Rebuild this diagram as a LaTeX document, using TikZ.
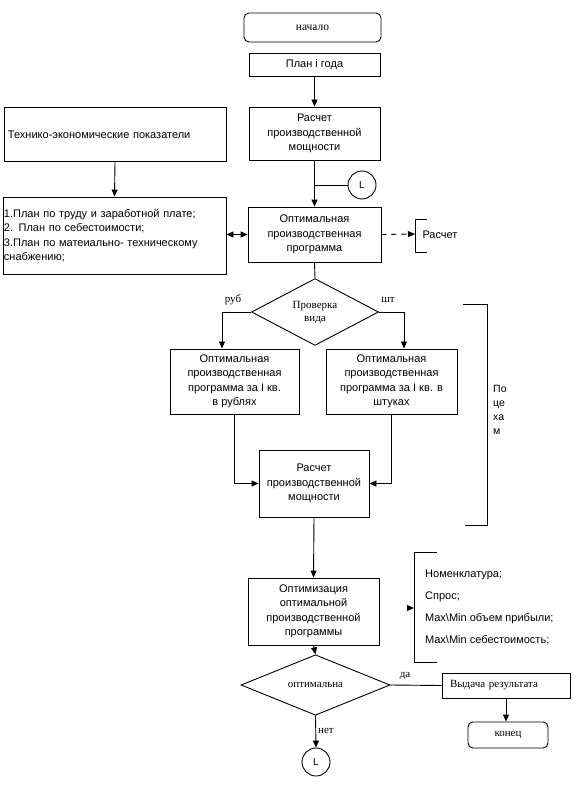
\documentclass[tikz,border=0pt]{standalone}
\usepackage{fontspec}
\setmainfont{Liberation Sans}
\newfontfamily\seriffont{Liberation Serif}
\usetikzlibrary{arrows.meta,shapes.geometric,calc}
\begin{document}
\begin{tikzpicture}[x=1pt,y=-1pt,
  lw/.style={line width=0.9pt},
  box/.style={draw,lw,inner sep=0pt,align=center,font=\fontsize{11}{14.5}\selectfont},
  rbox/.style={box,rounded corners=5pt},
  sbox/.style={box,font=\seriffont\fontsize{11}{13}\selectfont},
  dia/.style={draw,lw,diamond,inner sep=0pt,align=center,font=\seriffont\fontsize{11}{13}\selectfont},
  conn/.style={draw,lw,circle,minimum size=28pt,inner sep=0pt,font=\fontsize{10}{12}\selectfont},
  arr/.style={lw,-{Triangle[width=6pt,length=7pt]}},
  darr/.style={lw,{Triangle[width=6pt,length=7pt]}-{Triangle[width=6pt,length=7pt]}},
  ln/.style={lw},
  lab/.style={font=\seriffont\fontsize{11}{13}\selectfont,inner sep=0pt},
  txt/.style={font=\fontsize{11}{14.5}\selectfont,inner sep=0pt,align=left}
]
\useasboundingbox (0,0) rectangle (588,786);

% top column
\node[rbox,minimum width=137pt,minimum height=29pt,font=\seriffont\fontsize{11.5}{13}\selectfont] (nach) at (312.5,27.5) {начало};
\node[box,minimum width=131pt,minimum height=23pt] (plan) at (314.5,64.5) {План і года};
\node[box,minimum width=131pt,minimum height=53pt] (r1) at (314.5,133.5) {Расчет\\производственной\\мощности};
\node[conn] (L1) at (362,185) {L};
\node[box,minimum width=133pt,minimum height=55pt] (opt) at (314.5,234.5) {Оптимальная\\производственная\\программа};

% left column
\node[box,minimum width=222pt,minimum height=54pt,text width=214pt,align=left] (tech) at (115,134.5) {Технико-экономические показатели};
\node[box,minimum width=223pt,minimum height=77pt,text width=221pt,align=left] (plans) at (114.5,235.5) {1.План по труду и заработной плате;\\2. План по себестоимости;\\3.План по матеиально- техническому\\снабжению;};

% Расчет bracket
\coordinate (rb) at (415,234);
\draw[ln] (427,219) -- (415,219) -- (415,252) -- (427,252);
\node[txt] (rtxt) at (440,235) {Расчет};

% check diamond
\node[dia,minimum width=127pt,minimum height=62pt] (prov) at (315,312) {Проверка\\вида};
\node[box,minimum width=129pt,minimum height=65pt] (lb) at (234.5,381.5) {Оптимальная\\производственная\\программа за I кв.\\в рублях};
\node[box,minimum width=131pt,minimum height=65pt] (rbx) at (391.5,381.5) {Оптимальная\\производственная\\программа за I кв. в\\штуках};
\coordinate (lbin) at (222,348.5);
\coordinate (rbin) at (404,348.5);
\node[lab] (rub) at (233,300) {руб};
\node[lab] (sht) at (388,300) {шт};

\node[box,minimum width=110pt,minimum height=67pt] (r2) at (314,483.5) {Расчет\\производственной\\мощности};

% По цехам bracket
\draw[ln] (463,304) -- (487,304) -- (487,525) -- (465,525);
\node[txt,anchor=north west,font=\fontsize{10.5}{14}\selectfont] (pc) at (493,385) {По\\це\\ха\\м};

\node[box,minimum width=131pt,minimum height=67pt] (optz) at (313.5,611.5) {Оптимизация\\оптимальной\\производственной\\программы};

% Номенклатура bracket
\draw[ln] (437,552) -- (414,552) -- (414,662) -- (437,662);
\coordinate (nb) at (414,608);
\coordinate (nbs) at (407,608);
\node[txt,anchor=west,font=\fontsize{11}{22}\selectfont] (nom) at (425,607) {Номенклатура;\\Спрос;\\Max\textbackslash Min объем прибыли;\\Max\textbackslash Min себестоимость;};

\node[dia,minimum width=149pt,minimum height=56pt] (d2) at (315.5,685) {оптимальна};
\node[sbox,minimum width=128pt,minimum height=25pt,text width=112pt,align=left] (vyd) at (506,685.5) {Выдача результата};
\node[rbox,minimum width=80pt,minimum height=26pt,font=\seriffont\fontsize{11}{13}\selectfont] (kon) at (508,735) {конец};
\node[conn] (L2) at (316,762) {L};
\node[lab] (da) at (405,676) {да};
\node[lab] (net) at (326,731) {нет};

% connectors
\draw[arr] (plan.south) -- (r1.north);
\draw[arr] (r1.south) -- (opt.north);
\draw[ln] (L1.west) -- (r1.south |- L1.west);
\draw[arr] (tech.south) -- (plans.north);
\draw[darr] (plans.east |- opt.west) -- (opt.west);
\draw[arr,dashed,dash pattern=on 5pt off 5pt] (opt.east) -- (rb);
\draw[ln] (opt.south) -- (prov.north);
\draw[arr] (prov.west) -| (lbin);
\draw[arr] (prov.east) -| (rbin);
\draw[arr] (lb.south) |- (r2.west);
\draw[arr] (rbx.south) |- (r2.east);
\draw[arr] (r2.south) -- (optz.north);
\draw[arr] (nbs) -- (nb);
\draw[arr] (optz.south) -- (d2.north);
\draw[ln] (d2.east) -- (vyd.west);
\draw[arr] (vyd.south) -- (vyd.south |- kon.north);
\draw[arr] (d2.south) -- (L2.north);
\end{tikzpicture}
\end{document}
